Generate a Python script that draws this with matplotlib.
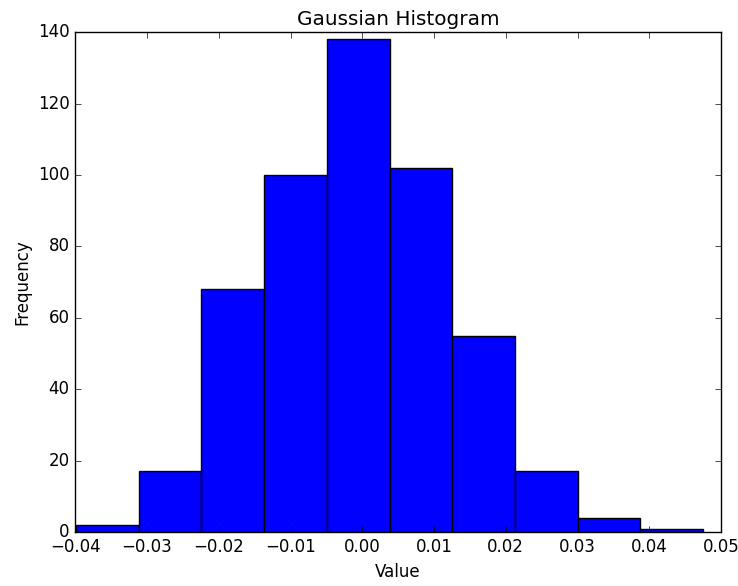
import numpy as np
import matplotlib
matplotlib.use('Agg')
import matplotlib.pyplot as plt

# bin edges and counts
bin_edges = np.linspace(-0.0399, 0.0475, 11)
counts = [2, 17, 68, 100, 138, 102, 55, 17, 4, 1]
x_ticks = [-0.04, -0.03, -0.02, -0.01, 0.00, 0.01, 0.02, 0.03, 0.04, 0.05]


def main():
    plt.style.use('classic')
    fig = plt.figure(figsize=(7.38, 5.86), dpi=100)
    ax = fig.add_axes([0.102, 0.092, 0.875, 0.853])
    ax.hist(bin_edges[:-1], bins=bin_edges, weights=counts, color='b', edgecolor='black')
    ax.set_xlim(-0.04, 0.05)
    ax.set_xticks(x_ticks)
    ax.set_ylim(0, 140)
    ax.set_title('Gaussian Histogram')
    ax.set_xlabel('Value')
    ax.set_ylabel('Frequency')
    return fig


if __name__ == '__main__':
    fig = main()
    fig.savefig('out.png', dpi=100)
